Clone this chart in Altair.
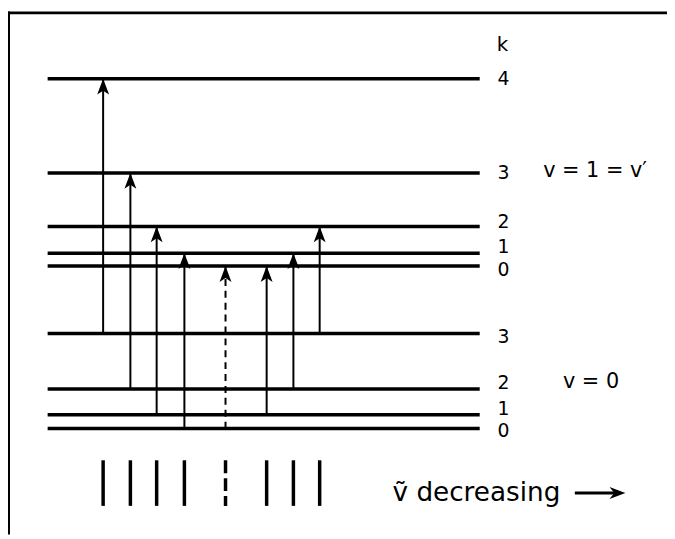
import altair as alt
import pandas as pd

# ---- data (energies in arbitrary units, positions in spectral units)
upper_k = [0, 1, 2, 3, 4]
upper_E = [164, 177, 204, 258, 353]
lower_k = [0, 1, 2, 3]
lower_E = [0, 14, 40, 96]

trans_lower_k = [3, 2, 1, 0, 0, 1, 2, 3]
trans_upper_k = [4, 3, 2, 1, 0, 0, 1, 2]
trans_pos = [96, 123.5, 150, 178, 219.5, 261, 288, 314.5]
trans_forbidden = [False, False, False, False, True, False, False, False]

# ---- layout constants
W, H = 665, 529
LINE_X0, LINE_X1 = 40, 476
LABEL_X = 500
SPEC_TOP, SPEC_BOT = -32, -78
# small vertical nudges of the k labels (pixels) so close levels stay legible
upper_label_dy = [4, -6, -4, 0, 0]
lower_label_dy = [3, -6, -6, 4]

xs = alt.Scale(domain=[0, W], range=[0, W], nice=False, zero=False)
ys = alt.Scale(domain=[-107, 422], range=[H, 0], nice=False, zero=False)

levels = pd.DataFrame({
    "x0": LINE_X0, "x1": LINE_X1,
    "E": upper_E + lower_E,
    "k": [str(k) for k in upper_k + lower_k],
    "dy": upper_label_dy + lower_label_dy,
})
levels["lx"] = LABEL_X

E_up = dict(zip(upper_k, upper_E))
E_lo = dict(zip(lower_k, lower_E))
trans = pd.DataFrame({
    "x": trans_pos,
    "Elo": [E_lo[k] for k in trans_lower_k],
    "Eup": [E_up[k] for k in trans_upper_k],
    "dashed": trans_forbidden,
    "top": SPEC_TOP, "bot": SPEC_BOT,
})

X = lambda f: alt.X(f, type="quantitative", scale=xs, axis=None)
Y = lambda f: alt.Y(f, type="quantitative", scale=ys, axis=None)
FONT = "DejaVu Sans"

level_lines = alt.Chart(levels).mark_rule(color="black", strokeWidth=3.5).encode(
    x=X("x0"), x2="x1", y=Y("E"))

label_layers = [
    alt.Chart(levels[levels["dy"] == d]).mark_text(
        font=FONT, fontSize=19, align="center", baseline="middle", color="black", dy=d).encode(
        x=X("lx"), y=Y("E"), text="k:N")
    for d in sorted(levels["dy"].unique())
]

solid = trans[~trans["dashed"]]
dashed = trans[trans["dashed"]]
shafts_solid = alt.Chart(solid).mark_rule(color="black", strokeWidth=2).encode(
    x=X("x"), y=Y("Elo"), y2="Eup")
shafts_dashed = alt.Chart(dashed).mark_rule(color="black", strokeWidth=2, strokeDash=[7, 5]).encode(
    x=X("x"), y=Y("Elo"), y2="Eup")
heads = alt.Chart(trans).mark_point(
    shape="M0,-1L0.75,1L0,0.5L-0.75,1Z", filled=True, color="black", opacity=1,
    size=256, strokeWidth=0).encode(x=X("x"), y=Y("Eup"), yOffset=alt.value(8))

spec_solid = alt.Chart(solid).mark_rule(color="black", strokeWidth=3.5).encode(
    x=X("x"), y=Y("top"), y2="bot")
spec_dashed = alt.Chart(dashed).mark_rule(color="black", strokeWidth=3.5, strokeDash=[13, 5]).encode(
    x=X("x"), y=Y("top"), y2="bot")

k_title = pd.DataFrame({"x": [499], "E": [387], "t": ["k"]})
v_labels = pd.DataFrame({"x": [540, 560], "E": [260, 47], "t": ["v = 1 = v\u2032", "v = 0"]})
axis_note = pd.DataFrame({"x": [388], "E": [-73], "t": ["\u1e7d decreasing"]})

annot_k = alt.Chart(k_title).mark_text(
    font=FONT, fontSize=20, baseline="middle", align="center", color="black").encode(
    x=X("x"), y=Y("E"), text="t:N")
annot_v = alt.Chart(v_labels).mark_text(
    font=FONT, fontSize=21, baseline="middle", align="left", color="black").encode(
    x=X("x"), y=Y("E"), text="t:N")
annot_big = alt.Chart(axis_note).mark_text(
    font=FONT, fontSize=26.5, baseline="alphabetic", align="left", color="black").encode(
    x=X("x"), y=Y("E"), text="t:N")

arrow = pd.DataFrame({"x0": [572], "x1": [617], "E": [-65], "hx": [615]})
arrow_shaft = alt.Chart(arrow).mark_rule(color="black", strokeWidth=3).encode(
    x=X("x0"), x2="x1", y=Y("E"))
arrow_head = alt.Chart(arrow).mark_point(
    shape="M1,0L-1,-0.75L-0.4,0L-1,0.75Z", filled=True, color="black", opacity=1,
    size=256, strokeWidth=0).encode(x=X("hx"), y=Y("E"))

frame_top = alt.Chart(pd.DataFrame({"a": [0]})).mark_rule(color="black", strokeWidth=3).encode(
    x=alt.value(0), x2=alt.value(W), y=alt.value(2.5))
frame_left = alt.Chart(pd.DataFrame({"a": [0]})).mark_rule(color="black", strokeWidth=3).encode(
    x=alt.value(0.5), y=alt.value(1), y2=alt.value(H))

chart = alt.layer(
    frame_top, frame_left, level_lines, *label_layers, shafts_solid, shafts_dashed, heads,
    spec_solid, spec_dashed, annot_k, annot_v, annot_big, arrow_shaft, arrow_head,
).properties(
    width=W, height=H, padding=0, autosize=alt.AutoSizeParams(type="none"),
    background="white",
).configure_view(stroke=None)

chart.save("out.html", embed_options={"renderer": "svg", "actions": False})
